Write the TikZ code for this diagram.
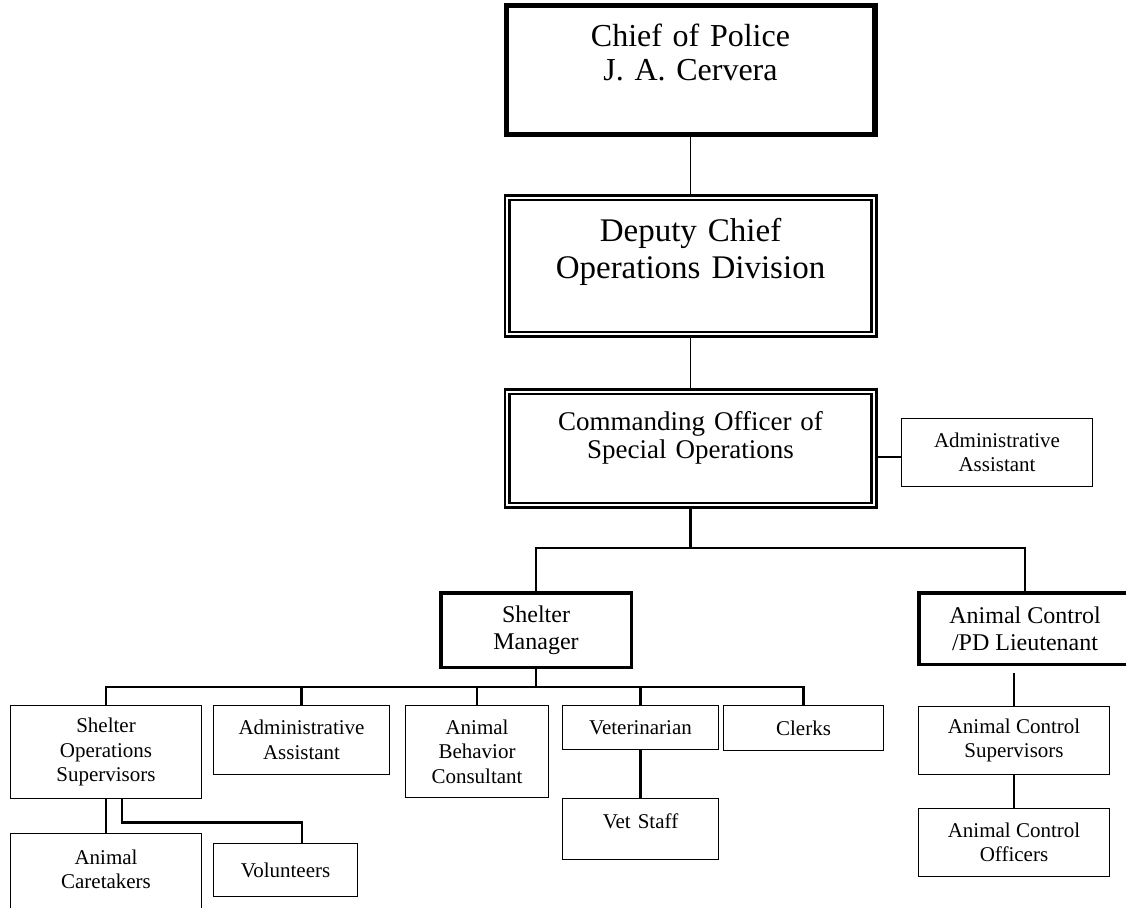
\documentclass[tikz,border=0pt]{standalone}
\usepackage{fontspec}
\setmainfont{Liberation Serif}
\usepackage{tikz}
\usetikzlibrary{positioning}

\begin{document}
\begin{tikzpicture}[x=1pt,y=-1pt]
		\tikzstyle{chiefbox} = [rectangle, draw=black, line width=5.5pt, inner sep=0pt, align=center, font=\fontsize{32}{33.5}\selectfont]
		\tikzstyle{dblbox} = [rectangle, draw=black, line width=2.6pt, double=white, double distance=2pt, inner sep=0pt, align=center]
		\tikzstyle{headbox} = [rectangle, draw=black, line width=3.5pt, inner sep=0pt, align=center, font=\fontsize{24}{27}\selectfont]
		\tikzstyle{unit} = [rectangle, draw=black, line width=1.1pt, inner sep=0pt, align=center, font=\fontsize{21}{24.5}\selectfont]
		\tikzstyle{link} = [draw, line width=1.7pt]
		\tikzstyle{bus} = [draw, line width=2.9pt]
		\useasboundingbox (0,0) rectangle (1126,907);

		% command chain
		\node (chief) [chiefbox, text width=368.5pt, text height=41.3pt, text depth=87.3pt, anchor=base] at (690.5,47) {Chief of Police\\J. A. Cervera};
		\node (deputy) [dblbox, font=\fontsize{33}{37}\selectfont, text width=366.8pt, text height=43.4pt, text depth=93.4pt, anchor=base] at (690.5,241) {Deputy Chief\\Operations Division};
		\node (cmd) [dblbox, font=\fontsize{27}{28}\selectfont, text width=366.8pt, text height=38.4pt, text depth=75.4pt, anchor=base] at (690.5,430) {Commanding Officer of\\Special Operations};
		\node (cmdadmin) [unit, minimum width=191pt, minimum height=68pt] at (997,452.5) {Administrative\\Assistant};

		% shelter side
		\node (smgr) [headbox, minimum width=190.5pt, minimum height=74.5pt] at (536,630) {Shelter\\Manager};
		\node (shops) [unit, minimum width=191pt, minimum height=93pt] at (106,752) {Shelter\\Operations\\Supervisors};
		\node (sadmin) [unit, minimum width=176pt, minimum height=69pt] at (301.5,740) {Administrative\\Assistant};
		\node (behav) [unit, minimum width=143pt, minimum height=92pt] at (477,751.5) {Animal\\Behavior\\Consultant};
		\node (vet) [unit, minimum width=156pt, minimum height=44pt] at (640.5,727.5) {Veterinarian};
		\node (clerks) [unit, minimum width=160pt, minimum height=45pt] at (803.5,728) {Clerks};
		\node (vstaff) [unit, text width=156pt, text height=29.5pt, text depth=31.5pt, anchor=base] at (640.5,828) {Vet Staff};
		\node (caretk) [unit, text width=191pt, text height=30.5pt, text depth=60pt, anchor=base] at (106,864) {Animal\\Caretakers};
		\node (volun) [unit, minimum width=144pt, minimum height=53pt] at (285.5,870) {Volunteers};

		% animal control side
		\node (lieut) [headbox, minimum width=212.5pt, minimum height=71.5pt] at (1025,628.5) {Animal Control\\/PD Lieutenant};
		\node (acsup) [unit, minimum width=191pt, minimum height=68pt] at (1014,740.5) {Animal Control\\Supervisors};
		\node (acoff) [unit, minimum width=191pt, minimum height=68pt] at (1014,842.5) {Animal Control\\Officers};

		\coordinate (busA) at (690.5,548);
		\coordinate (busB) at (536,687);
		\coordinate (admlink) at ([yshift=-4.5pt]cmdadmin.west);
		\coordinate (volfork) at ([xshift=16pt]shops.south);

		\path [link] (chief.south) -- (deputy.north);
		\path [link] (deputy.south) -- (cmd.north);
		\path [draw, line width=2pt] (admlink) -- (admlink -| cmd.east);
		\path [draw, line width=2.4pt] (cmd.south) -- (busA) -| (smgr.north);
		\path [draw, line width=2.4pt] (busA) -| (lieut.north);
		\foreach \n in {shops,sadmin,behav,vet,clerks}
			\path [bus] (smgr.south) -- (busB) -| (\n.north);
		\path [bus] (shops.south) -- (caretk.north);
		\path [bus] (volfork) -- ++(0,23) -| ([xshift=16.5pt]volun.north);
		\path [draw, line width=2.5pt] (vet.south) -- (vstaff.north);
		\path [draw, line width=2.5pt, shorten >=7pt] (acsup.north) -- (acsup.north |- lieut.south);
		\path [link] (acsup.south) -- (acoff.north);

	\end{tikzpicture}
\end{document}
